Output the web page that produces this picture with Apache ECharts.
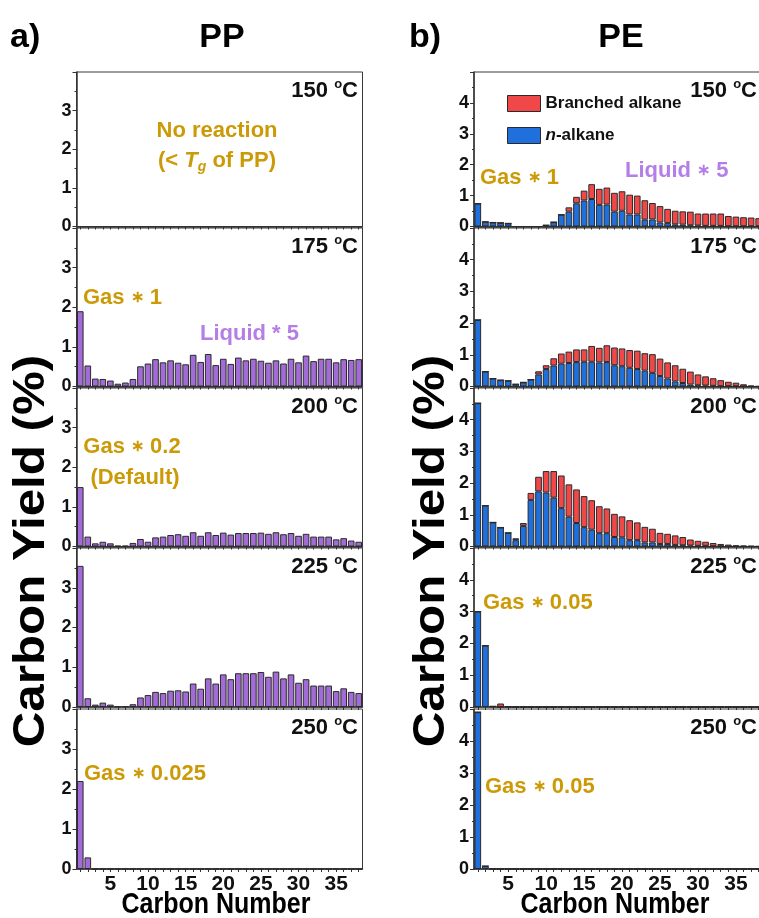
<!DOCTYPE html>
<html>
<head>
<meta charset="utf-8">
<script src="https://cdn.jsdelivr.net/npm/echarts@6/dist/echarts.min.js"></script>
<style>
  html, body { margin: 0; padding: 0; background: #fff; }
  #chart { width: 759px; height: 918px; }
</style>
</head>
<body>
<div id="chart"></div>
<script>
// Carbon number categories (C1 ... C38)
const carbonNumbers = ['1','2','3','4','5','6','7','8','9','10','11','12','13','14','15','16','17','18','19','20',
  '21','22','23','24','25','26','27','28','29','30','31','32','33','34','35','36','37','38'];

const temperatures = ['150', '175', '200', '225', '250'];

// PP carbon yields (%) — 150 °C shows no reaction
const ppYield175 = [1.90,0.53,0.20,0.19,0.15,0.07,0.10,0.19,0.51,0.58,0.69,0.61,0.66,0.60,0.56,0.80,0.62,0.82,0.54,0.70,
  0.57,0.73,0.66,0.70,0.65,0.60,0.66,0.58,0.70,0.61,0.78,0.64,0.70,0.70,0.61,0.69,0.67,0.69];
const ppYield200 = [1.50,0.25,0.08,0.12,0.08,0.02,0.02,0.09,0.19,0.12,0.23,0.25,0.29,0.31,0.27,0.36,0.27,0.36,0.29,0.35,
  0.30,0.34,0.34,0.34,0.35,0.32,0.36,0.31,0.34,0.27,0.32,0.25,0.25,0.25,0.18,0.21,0.15,0.12];
const ppYield225 = [3.55,0.22,0.06,0.11,0.06,0.02,0.02,0.07,0.24,0.30,0.38,0.35,0.41,0.42,0.39,0.59,0.46,0.72,0.59,0.82,
  0.70,0.85,0.85,0.85,0.88,0.76,0.89,0.72,0.82,0.61,0.70,0.54,0.54,0.54,0.40,0.47,0.38,0.35];
const ppYield250 = [2.20,0.29,0,0,0,0,0,0,0,0,0,0,0,0,0,0,0,0,0,0,
  0,0,0,0,0,0,0,0,0,0,0,0,0,0,0,0,0,0];

// PE carbon yields (%) split into n-alkane and branched alkane
const peNormal150 = [0.74,0.15,0.13,0.12,0.10,0,0,0,0,0.04,0.14,0.38,0.48,0.75,0.84,0.89,0.70,0.71,0.48,0.51,
  0.39,0.39,0.22,0.23,0.13,0.11,0.07,0.06,0.04,0.03,0.02,0.02,0.02,0.01,0.01,0.01,0.01,0.01];
const peBranched150 = [0,0,0,0,0,0,0,0,0,0,0,0,0.14,0.21,0.32,0.48,0.52,0.55,0.61,0.63,
  0.64,0.61,0.63,0.53,0.53,0.46,0.44,0.43,0.44,0.39,0.40,0.40,0.40,0.33,0.31,0.29,0.28,0.26];
const peNormal175 = [2.10,0.47,0.25,0.20,0.18,0.07,0.13,0.22,0.38,0.55,0.66,0.72,0.74,0.77,0.78,0.78,0.76,0.77,0.67,0.64,
  0.59,0.55,0.50,0.43,0.33,0.25,0.16,0.11,0.06,0.04,0.03,0.02,0.01,0.01,0.01,0,0,0];
const peBranched175 = [0,0,0,0,0,0,0,0,0.10,0.12,0.23,0.32,0.36,0.40,0.39,0.50,0.46,0.53,0.56,0.56,
  0.56,0.58,0.55,0.59,0.55,0.51,0.51,0.45,0.41,0.34,0.29,0.24,0.19,0.14,0.11,0.07,0.03,0.01];
const peNormal200 = [4.52,1.29,0.76,0.60,0.43,0.20,0.65,1.47,1.74,1.70,1.54,1.21,0.94,0.74,0.61,0.53,0.42,0.42,0.30,0.29,
  0.20,0.20,0.13,0.13,0.08,0.08,0.05,0.04,0.03,0.02,0.02,0.01,0.01,0,0,0,0,0];
const peBranched200 = [0,0,0,0,0,0.06,0.09,0.22,0.46,0.68,0.84,1.03,1.02,1.06,0.98,0.93,0.85,0.78,0.73,0.66,
  0.63,0.56,0.49,0.43,0.35,0.32,0.30,0.26,0.19,0.16,0.13,0.10,0.07,0.06,0.04,0.03,0.02,0.01];
const peNormal225 = [3.00,1.93,0.02,0,0.01,0,0,0,0,0,0,0,0,0,0,0,0,0,0,0,
  0,0,0,0,0,0,0,0,0,0,0,0,0,0,0,0,0,0];
const peBranched225 = [0,0,0,0.11,0,0,0,0,0,0,0,0,0,0,0,0,0,0,0,0,
  0,0,0,0,0,0,0,0,0,0,0,0,0,0,0,0,0,0];
const peNormal250 = [4.90,0.09,0,0,0,0,0,0,0,0,0,0,0,0,0,0,0,0,0,0,
  0,0,0,0,0,0,0,0,0,0,0,0,0,0,0,0,0,0];
const peBranched250 = [0,0,0,0,0,0,0,0,0,0,0,0,0,0,0,0,0,0,0,0,
  0,0,0,0,0,0,0,0,0,0,0,0,0,0,0,0,0,0];

const ppSets = [null, ppYield175, ppYield200, ppYield225, ppYield250];
const peNormalSets = [peNormal150, peNormal175, peNormal200, peNormal225, peNormal250];
const peBranchedSets = [peBranched150, peBranched175, peBranched200, peBranched225, peBranched250];

// Layout of the stacked panels
const FONT = '"Liberation Sans", Arial, Helvetica, sans-serif';
const panelTops = [72, 228, 388, 548, 709];
const panelBottoms = [226.5, 386.5, 546.5, 707, 869];
const columns = [
  { left: 76.5, width: 286, yMax: 4 },
  { left: 474, width: 288.5, yMax: 5 }
];
const COLOR_PP = '#A36BD8';
const COLOR_N = '#1F6FDC';
const COLOR_BR = '#F04848';
const COLOR_GOLD = '#CC9A06';
const COLOR_LIQ = '#B57EE6';
const EDGE = '#2a2a2a';

const grids = [], xAxes = [], yAxes = [], series = [];
columns.forEach((col, c) => {
  for (let i = 0; i < 5; i++) {
    const idx = c * 5 + i;
    grids.push({
      left: col.left, width: col.width,
      top: panelTops[i], height: panelBottoms[i] - panelTops[i],
      show: true, borderColor: '#3a3a3a', borderWidth: 1,
      backgroundColor: 'transparent',
      containLabel: false, outerBoundsMode: 'none'
    });
    xAxes.push({
      type: 'category', gridIndex: idx, data: carbonNumbers,
      axisLine: { lineStyle: { color: '#333', width: 1.5 } },
      axisTick: { show: true, interval: 0, alignWithLabel: true, length: 3, lineStyle: { color: '#333' } },
      axisLabel: {
        show: i === 4,
        interval: (n, v) => Number(v) % 5 === 0,
        fontSize: 21, fontWeight: 'bold', color: '#111', fontFamily: FONT, margin: 5
      },
      splitLine: { show: false }
    });
    yAxes.push({
      type: 'value', gridIndex: idx, min: 0, max: col.yMax, interval: 1,
      axisLine: { show: true, lineStyle: { color: '#333', width: 1.5 } },
      axisTick: { show: true, length: 4, lineStyle: { color: '#333' } },
      minorTick: { show: true, splitNumber: 2, length: 2, lineStyle: { color: '#333' } },
      axisLabel: {
        showMaxLabel: false, fontSize: 18, fontWeight: 'bold', color: '#111',
        fontFamily: FONT, margin: 5
      },
      splitLine: { show: false }
    });
  }
});

const barBase = {
  type: 'bar', barCategoryGap: '12%', animation: false,
  itemStyle: { borderColor: EDGE, borderWidth: 1 }
};

ppSets.forEach((data, i) => {
  if (!data) return;
  series.push(Object.assign({}, barBase, {
    name: 'PP ' + temperatures[i], xAxisIndex: i, yAxisIndex: i, data,
    itemStyle: { color: COLOR_PP, borderColor: EDGE, borderWidth: 1 }
  }));
});
for (let i = 0; i < 5; i++) {
  const idx = 5 + i;
  series.push(Object.assign({}, barBase, {
    name: 'n-alkane', stack: 'pe' + i, xAxisIndex: idx, yAxisIndex: idx,
    data: peNormalSets[i],
    itemStyle: { color: COLOR_N, borderColor: EDGE, borderWidth: 1 }
  }));
  series.push(Object.assign({}, barBase, {
    name: 'Branched alkane', stack: 'pe' + i, xAxisIndex: idx, yAxisIndex: idx,
    data: peBranchedSets[i],
    itemStyle: { color: COLOR_BR, borderColor: EDGE, borderWidth: 1 }
  }));
}

// Text helpers for the annotations
function text(x, y, str, size, color, extra) {
  return Object.assign({
    type: 'text', x, y, z: 100, silent: true,
    style: Object.assign({
      text: str, fill: color, fontSize: size, fontWeight: 'bold', fontFamily: FONT,
      align: 'left', verticalAlign: 'middle', textAlign: 'left', textVerticalAlign: 'middle'
    }, extra && extra.style)
  }, extra && extra.el);
}
// "Gas ∗ 0.2"-style tag with a smaller, centred multiplication asterisk
function factorLabel(x, y, word, factor, color, align) {
  const tok = (size, extra) => Object.assign({ fontSize: size, fontWeight: 'bold', fontFamily: FONT, fill: color, color, lineHeight: 26 }, extra);
  return {
    type: 'text', x, y, z: 100, silent: true,
    style: {
      text: '{n|' + word + ' }{a|\u2217}{n| ' + factor + '}',
      align: align || 'left', textAlign: align || 'left',
      verticalAlign: 'middle', textVerticalAlign: 'middle',
      fontFamily: FONT, fontWeight: 'bold', fontSize: 22, fill: color,
      rich: { n: tok(22), a: tok(16) }
    }
  };
}
function tempLabel(xRight, y, t) {
  return {
    type: 'text', x: xRight, y, z: 100, silent: true,
    style: {
      text: '{n|' + t + ' }{s|o}{n|C}',
      align: 'right', verticalAlign: 'middle', textAlign: 'right', textVerticalAlign: 'middle',
      fontFamily: FONT, fontWeight: 'bold', fontSize: 22, fill: '#111',
      rich: {
        n: { fontSize: 22, fontWeight: 'bold', fontFamily: FONT, fill: '#111', color: '#111', lineHeight: 26 },
        s: { fontSize: 13, fontWeight: 'bold', fontFamily: FONT, fill: '#111', color: '#111', lineHeight: 12, verticalAlign: 'top' }
      }
    }
  };
}

const graphics = [];
// Panel headings and axis titles
graphics.push(text(10, 38, 'a)', 34, '#000'));
graphics.push(text(222, 38, 'PP', 34, '#000', { style: { align: 'center', textAlign: 'center' } }));
graphics.push(text(409, 38, 'b)', 34, '#000'));
graphics.push(text(621, 38, 'PE', 34, '#000', { style: { align: 'center', textAlign: 'center' } }));
[32, 432].forEach(x => {
  graphics.push(text(x, 551, 'Carbon Yield (%)', 44, '#000', {
    style: { align: 'center', textAlign: 'center' },
    el: { rotation: Math.PI / 2, scaleX: 1.12 }
  }));
});
[216, 615].forEach(x => {
  graphics.push(text(x, 905, 'Carbon Number', 25, '#000', {
    style: { align: 'center', textAlign: 'center' },
    el: { scaleY: 1.15 }
  }));
});
// Temperature tags
temperatures.forEach((t, i) => {
  graphics.push(tempLabel(358, panelTops[i] + 19, t));
  graphics.push(tempLabel(757, panelTops[i] + 19, t));
});
// PP annotations
const center = { style: { align: 'center', textAlign: 'center' } };
graphics.push(text(217, 131, 'No reaction', 22, COLOR_GOLD, center));
graphics.push({
  type: 'text', x: 217, y: 161, z: 100, silent: true,
  style: {
    text: '{n|(< }{i|T}{g|g}{n| of PP)}',
    align: 'center', verticalAlign: 'middle', textAlign: 'center', textVerticalAlign: 'middle',
    fontFamily: FONT, fontWeight: 'bold', fontSize: 22, fill: COLOR_GOLD,
    rich: {
      n: { fontSize: 22, fontWeight: 'bold', fontFamily: FONT, fill: COLOR_GOLD, color: COLOR_GOLD, lineHeight: 26 },
      i: { fontSize: 22, fontWeight: 'bold', fontStyle: 'italic', fontFamily: FONT, fill: COLOR_GOLD, color: COLOR_GOLD, lineHeight: 26 },
      g: { fontSize: 14, fontWeight: 'bold', fontStyle: 'italic', fontFamily: FONT, fill: COLOR_GOLD, color: COLOR_GOLD, lineHeight: 10, verticalAlign: 'bottom' }
    }
  }
});
graphics.push(factorLabel(83, 298, 'Gas', '1', COLOR_GOLD));
graphics.push(text(200, 334, 'Liquid * 5', 22, COLOR_LIQ));
graphics.push(factorLabel(132, 447, 'Gas', '0.2', COLOR_GOLD, 'center'));
graphics.push(text(135, 478, '(Default)', 22, COLOR_GOLD, center));
graphics.push(factorLabel(84, 774, 'Gas', '0.025', COLOR_GOLD));
// PE annotations
graphics.push(factorLabel(480, 178, 'Gas', '1', COLOR_GOLD));
graphics.push(factorLabel(625, 171, 'Liquid', '5', COLOR_LIQ));
graphics.push(factorLabel(483, 603, 'Gas', '0.05', COLOR_GOLD));
graphics.push(factorLabel(485, 787, 'Gas', '0.05', COLOR_GOLD));

const option = {
  animation: false,
  backgroundColor: '#fff',
  textStyle: { fontFamily: FONT },
  grid: grids,
  xAxis: xAxes,
  yAxis: yAxes,
  series,
  legend: {
    data: ['Branched alkane', 'n-alkane'],
    orient: 'vertical', left: 507, top: 95,
    itemWidth: 33, itemHeight: 16, itemGap: 15,
    icon: 'rect', selectedMode: false,
    padding: 0,
    itemStyle: { borderColor: EDGE, borderWidth: 1 },
    formatter: name => name === 'n-alkane' ? '{i|n}-alkane' : name,
    textStyle: {
      fontSize: 17, fontWeight: 'bold', color: '#111', fontFamily: FONT,
      rich: { i: { fontSize: 17, fontWeight: 'bold', fontStyle: 'italic', color: '#111', fontFamily: FONT } }
    }
  },
  graphic: graphics
};

const chart = echarts.init(document.getElementById('chart'), null, { renderer: 'canvas' });
chart.setOption(option);
</script>
</body>
</html>
